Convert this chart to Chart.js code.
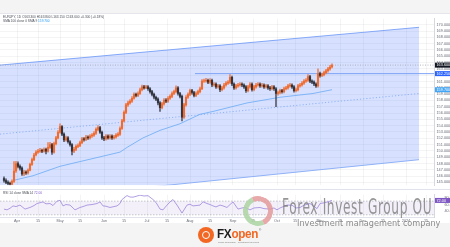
<!DOCTYPE html>
<html>
<head>
<meta charset="utf-8">
<script src="https://cdn.jsdelivr.net/npm/chart.js@4.4.1/dist/chart.umd.min.js"></script>
<style>
  html, body { margin: 0; padding: 0; }
  body { width: 450px; height: 247px; position: relative; overflow: hidden; background: #f4f4f5;
         font-family: "Liberation Sans", Arial, sans-serif; }
  #panel { position: absolute; left: 0; top: 13px; width: 450px; height: 210px; background: #fff;
           border-top: 1px solid #e4e6ec; box-sizing: border-box; }
  canvas { position: absolute; left: 0; }
  #main { top: 14px; }
  #rsi { top: 190px; }
  #sep { position: absolute; left: 0; top: 189px; width: 450px; height: 1px; background: #e0e3eb; }
  .hdr { position: absolute; left: 3px; font-size: 3.2px; line-height: 4px; color: #4a4d57; white-space: nowrap; }
  .wm { position: absolute; white-space: nowrap; transform-origin: 0 0; }
  #wm1 { left: 282px; top: 196px; font-family: "DejaVu Sans Condensed", "DejaVu Sans", sans-serif;
         font-size: 22px; line-height: 22px; color: rgba(120,120,120,0.78); letter-spacing: 1px; }
  #wm2 { left: 297px; top: 219px; font-family: "DejaVu Sans", sans-serif; font-size: 9px; line-height: 9px;
         color: #8b8b8b; }
  #ring { position: absolute; left: 243px; top: 196px; width: 30px; height: 30px; box-sizing: border-box;
          border: 5px solid; border-radius: 50%; border-color: #e39b9b #e39b9b #acd4a3 #acd4a3;
          transform: rotate(20deg); opacity: 0.85; }
  #fxlogo { position: absolute; left: 198px; top: 227px; width: 16px; height: 16px; border-radius: 50%;
            background: #f26722; }
  #fxlogo::after { content: ""; position: absolute; left: 4px; top: 4px; width: 6px; height: 6px;
            border: 1px solid #fff; border-radius: 50%; }
  #fxtext { left: 217px; top: 228px; font-size: 12px; line-height: 12px; font-weight: bold; letter-spacing: -0.3px; }
  #fxtag { left: 218px; top: 241px; font-size: 2.4px; line-height: 3px; color: #777; }
  #fxreg { left: 259px; top: 228px; font-size: 3px; color: #555; }
</style>
</head>
<body>
<div id="panel"></div>
<canvas id="main" width="450" height="176"></canvas>
<canvas id="rsi" width="450" height="33"></canvas>
<div id="sep"></div>
<div class="hdr" id="hdr1" style="top:14.5px"></div>
<div class="hdr" id="hdr2" style="top:19px"></div>
<div class="hdr" id="hdr3" style="top:190.5px"></div>
<div id="ring"></div>
<div class="wm" id="wm1" data-w="150">Forex Invest Group OU</div>
<div class="wm" id="wm2" data-w="143">Investment management company</div>
<div id="fxlogo"></div>
<div class="wm" id="fxtext" data-w="41"><span style="color:#1e1e1e">FX</span><span style="color:#f26722">open</span></div>
<div class="wm" id="fxreg">®</div>
<div class="wm" id="fxtag">online brokerage · investment services</div>
<script>
// daily candles, EURJPY, bar index 0 = first visible session
const opens = [
  145.60,145.30,145.00,144.85,144.70,145.15,146.80,148.00,147.55,147.25,
  146.35,146.65,146.50,146.95,147.85,148.60,149.35,149.80,149.95,150.10,
  149.95,150.25,149.95,150.55,151.00,149.80,151.15,152.05,152.95,153.85,
  152.65,151.75,152.05,151.45,151.00,149.95,150.25,150.70,150.85,151.30,
  151.90,151.80,152.20,152.05,152.35,152.50,152.80,153.40,153.70,152.95,
  152.05,151.90,152.35,152.05,152.35,152.05,152.20,152.50,152.65,153.55,
  154.75,156.10,157.30,157.60,157.90,158.35,158.95,158.80,159.10,159.70,
  160.15,160.00,160.15,159.85,159.40,158.95,158.50,158.20,157.60,156.85,
  157.45,158.05,157.90,158.35,158.65,159.10,159.40,160.00,159.10,158.65,
  155.35,157.30,158.50,158.95,159.55,159.25,158.80,159.10,159.40,159.85,
  161.05,161.10,161.20,160.90,161.20,160.45,160.60,160.15,160.30,159.70,
  160.00,160.45,160.75,160.90,161.65,160.60,160.00,160.30,160.45,160.60,
  160.45,160.15,159.55,160.15,160.60,159.70,160.15,160.45,160.60,160.30,
  160.45,160.15,160.30,160.00,159.85,160.15,159.85,159.10,159.25,159.55,
  159.40,159.85,160.00,160.30,160.45,160.15,159.55,159.70,160.30,160.45,
  160.75,161.05,161.20,161.80,161.05,160.90,160.60,160.30,162.25,161.95,
  162.10,162.40,162.70,163.00,163.30
];
const highs = [
  145.90,145.55,145.25,145.05,145.40,148.30,148.35,148.25,147.80,147.45,
  146.90,146.85,147.15,148.05,148.85,149.60,150.05,150.25,150.40,150.30,
  150.50,150.45,151.30,151.35,151.20,151.40,152.30,153.20,154.30,154.00,
  152.85,152.35,152.25,151.65,151.15,150.55,150.95,151.10,151.55,152.15,
  152.10,152.45,152.40,152.60,152.75,153.05,153.65,154.00,153.90,153.15,
  152.30,152.60,152.55,152.60,152.55,152.45,152.75,152.90,153.80,155.00,
  156.35,157.55,157.90,158.15,158.60,159.20,159.15,159.35,159.95,160.45,
  160.40,160.40,160.35,160.05,159.60,159.15,158.70,158.40,157.80,157.70,
  158.30,158.30,158.60,158.90,159.35,159.65,160.30,160.20,159.30,158.85,
  157.55,158.75,159.20,159.80,159.75,159.45,159.35,159.65,160.10,161.30,
  161.40,161.50,161.40,161.45,161.40,160.85,160.80,160.55,160.50,160.25,
  160.70,161.00,161.15,162.10,161.85,160.80,160.55,160.70,160.85,160.80,
  160.65,160.35,160.40,160.85,160.80,160.40,160.70,160.85,160.80,160.70,
  160.65,160.55,160.50,160.25,160.40,160.35,160.05,159.50,159.80,159.75,
  160.10,160.25,160.55,160.70,160.65,160.35,159.95,160.55,160.70,161.00,
  161.30,161.45,162.10,162.00,161.25,161.10,160.80,163.00,162.50,162.35,
  162.65,162.95,163.25,163.55,163.80
];
const lows = [
  145.05,144.80,144.60,144.55,144.60,145.00,146.60,147.30,146.95,146.10,
  146.05,146.25,146.30,146.80,147.70,148.45,149.20,149.60,149.75,149.70,
  149.80,149.50,149.80,150.40,149.45,149.65,150.95,151.90,152.80,152.40,
  151.45,151.55,151.20,150.75,149.35,149.70,150.05,150.50,150.65,151.15,
  151.55,151.60,151.80,151.85,152.15,152.30,152.60,153.20,152.75,151.80,
  151.60,151.70,151.85,151.85,151.80,151.85,152.00,152.30,152.45,153.40,
  154.60,155.90,157.05,157.40,157.70,158.20,158.55,158.60,158.95,159.50,
  159.80,159.85,159.60,159.15,158.70,158.25,157.95,157.30,156.25,156.65,
  157.25,157.65,157.70,158.15,158.45,158.90,159.20,158.85,158.40,154.75,
  155.15,157.10,158.30,158.75,159.00,158.55,158.60,158.90,159.20,159.70,
  160.85,160.90,160.65,160.70,160.20,160.25,159.90,159.95,159.40,159.50,
  159.80,160.25,160.55,160.70,160.35,159.75,159.80,160.10,160.25,160.20,
  159.90,159.25,159.35,159.95,159.45,159.50,159.95,160.25,160.05,160.10,
  159.90,159.95,159.75,159.60,159.65,159.60,157.00,158.85,159.05,159.15,
  159.20,159.65,159.80,160.10,159.90,159.30,159.35,159.50,160.10,160.25,
  160.55,160.85,161.00,160.80,160.65,160.35,160.05,160.10,161.70,161.75,
  161.90,162.20,162.50,162.80,163.15
];
const closes = [
  145.30,145.00,144.85,144.70,145.15,146.80,148.00,147.55,147.25,146.35,
  146.65,146.50,146.95,147.85,148.60,149.35,149.80,149.95,150.10,149.95,
  150.25,149.95,150.55,151.00,149.80,151.15,152.05,152.95,153.85,152.65,
  151.75,152.05,151.45,151.00,149.95,150.25,150.70,150.85,151.30,151.90,
  151.80,152.20,152.05,152.35,152.50,152.80,153.40,153.70,152.95,152.05,
  151.90,152.35,152.05,152.35,152.05,152.20,152.50,152.65,153.55,154.75,
  156.10,157.30,157.60,157.90,158.35,158.95,158.80,159.10,159.70,160.15,
  160.00,160.15,159.85,159.40,158.95,158.50,158.20,157.60,156.85,157.45,
  158.05,157.90,158.35,158.65,159.10,159.40,160.00,159.10,158.65,155.35,
  157.30,158.50,158.95,159.55,159.25,158.80,159.10,159.40,159.85,161.05,
  161.10,161.20,160.90,161.20,160.45,160.60,160.15,160.30,159.70,160.00,
  160.45,160.75,160.90,161.65,160.60,160.00,160.30,160.45,160.60,160.45,
  160.15,159.55,160.15,160.60,159.70,160.15,160.45,160.60,160.30,160.45,
  160.15,160.30,160.00,159.85,160.15,159.85,159.10,159.25,159.55,159.40,
  159.85,160.00,160.30,160.45,160.15,159.55,159.70,160.30,160.45,160.75,
  161.05,161.20,161.80,161.05,160.90,160.60,160.30,162.25,161.95,162.10,
  162.40,162.70,163.00,163.30,163.60
];

// 100-day SMA: [bar, price]
const smaPoints = [
  [4.5,145.30],[14.5,146.05],[28,147.55],[38,148.30],[48,149.05],[58,149.80],
  [61.5,150.55],[69.5,152.05],[78,153.25],[88,154.30],[98,155.80],[104.5,156.25],
  [121.5,157.60],[138,158.50],[154.5,159.10],[164,159.70]
];

// drawn trend channel and levels: [bar, price]
const channelTop = [[-2,163.60],[207.5,169.60]];
const channelBottom = [[-2,141.85],[207.5,148.60]];
const channelMid = [[-2,152.65],[207.5,159.10]];
const resistance = [[95.5,162.25],[215,162.25]];

// RSI 14: [bar, value]
const rsiPoints = [
  [0,46.7],[1.5,44.4],[3,49],[4.5,56.0],[6,54],[8,58.4],[10.5,46.7],[13,51.4],[15,57],[16.5,63.0],
  [19.5,67.7],[21,62],[23,63.0],[24.5,57],[26.5,70.0],[28,72.3],[29.5,56.0],[31,60],[33,58.4],[35.5,44.4],
  [38,51.4],[40,55],[41.5,58.4],[44,60],[46.5,63.0],[48,67.7],[49.5,56.0],[51,55],[53,51.4],[55,54],
  [56.5,56.0],[58,63],[59,74.7],[61.5,86.3],[63,82],[64.5,81.6],[66,84],[68,87.5],[70,85],[72,86.0],
  [74.5,74.7],[76,66],[78,46.7],[79.5,44.4],[81,55],[83,67.7],[84.5,74.7],[86.5,58.4],[89,35.1],[91.5,58.4],
  [93,61],[94.5,56.0],[96,57],[98,58.4],[99.5,68],[101.5,63.0],[103,60],[104.5,56.0],[106,53],[108,58.4],
  [109.5,56],[111.5,51.4],[113,60],[114.5,67.7],[117,46.7],[119,50],[120.5,51.4],[123,44.4],[125,50],[128,51.4],
  [130,48],[133,46.7],[135,50],[136.5,44.4],[138,50],[141.5,58.4],[144,58],[146,50],[148,51.4],[150,58],
  [153,63.0],[156.5,48.0],[158,63.0],[160,65],[162,68],[163,70.0],[164,72.0]
];
const rsiLevels = [70, 30];

// axes
const priceTicks = [145,146,147,148,149,150,151,152,153,154,155,156,157,158,159,160,
                    161,162,163,164,165,166,167,168,169,170];
const rsiTicks = [40, 60, 80];
const timeTickBars = [6.5,17,28,38,50,60,71.5,81.5,93,103,114.5,124.5,136.5,145.5,158,168,179.5,189.5,201,211];
const timeTickLabels = ["Apr","15","May","15","Jun","15","Jul","15","Aug","15","Sep","15","Oct","15",
                        "Nov","15","Dec","15","2024","15"];

Chart.defaults.font.family = '"Liberation Sans", Arial, sans-serif';
Chart.defaults.font.size = 3.8;
Chart.defaults.color = '#6a6d78';
Chart.defaults.animation = false;

const xy = arr => arr.map(([x, y]) => ({ x, y }));
const lastBar = closes.length - 1;
const upCol = '#f26b2e', downCol = '#32353e';
const candleCol = closes.map((c, i) => (c >= opens[i] ? upCol : downCol));
const gridCol = 'rgba(42,46,57,0.05)';

// coloured price tags on the right axis
const axisTags = {
  id: 'axisTags',
  afterDraw(chart, args, opts) {
    const ctx = chart.ctx, y = chart.scales.y, area = chart.chartArea;
    ctx.save();
    ctx.font = '3.8px "Liberation Sans"';
    ctx.textBaseline = 'middle';
    for (const t of opts.tags) {
      const py = y.getPixelForValue(t.value);
      ctx.fillStyle = t.bg;
      ctx.fillRect(area.right + 1, py - 2.5, 15, 5);
      ctx.fillStyle = '#fff';
      ctx.fillText(t.text, area.right + 2.5, py + 0.2);
    }
    ctx.restore();
  }
};

const timeAxis = showLabels => ({
  type: 'linear', min: -2, max: 215, offset: false,
  grid: { color: gridCol, drawTicks: false, offset: false },
  border: { display: showLabels, color: '#e0e3eb' },
  ticks: { display: showLabels, padding: 1.5, maxRotation: 0, autoSkip: false,
           callback: (v, i) => timeTickLabels[i] },
  afterBuildTicks: a => { a.ticks = timeTickBars.map(v => ({ value: v })); },
  afterFit: a => { a.height = showLabels ? 6 : 0; }
});

const line = (data, color, extra) => Object.assign({
  type: 'line', data: xy(data), borderColor: color, borderWidth: 1,
  pointRadius: 0, tension: 0, fill: false
}, extra);

new Chart(document.getElementById('main'), {
  type: 'bar',
  data: {
    datasets: [
      line(channelTop, '#8fb1f7', { order: 10 }),
      line(channelBottom, '#8fb1f7', { order: 9, fill: '-1', backgroundColor: 'rgba(41,98,255,0.19)' }),
      line(channelMid, '#8fb1f7', { order: 8, borderDash: [1.2, 2] }),
      line([[-2, closes[lastBar]], [215, closes[lastBar]]], '#a3a6af', { order: 7, borderWidth: 0.8, borderDash: [1, 1.5] }),
      line(resistance, '#7ea4f6', { order: 6 }),
      line(smaPoints, '#6aaaf4', { order: 5, borderWidth: 0.8 }),
      {
        type: 'bar', order: 2, grouped: false, barThickness: 0.6,
        data: closes.map((c, i) => ({ x: i, y: [lows[i], highs[i]] })),
        backgroundColor: candleCol
      },
      {
        type: 'bar', order: 1, grouped: false, barThickness: 1.5,
        data: closes.map((c, i) => ({ x: i, y: [opens[i], c] })),
        backgroundColor: candleCol
      }
    ]
  },
  options: {
    responsive: false,
    devicePixelRatio: 1,
    layout: { padding: 0 },
    plugins: {
      legend: { display: false },
      tooltip: { enabled: false },
      axisTags: { tags: [
        { value: closes[lastBar], bg: '#131722', text: closes[lastBar].toFixed(3) },
        { value: resistance[0][1], bg: '#2962ff', text: resistance[0][1].toFixed(3) },
        { value: smaPoints[smaPoints.length - 1][1], bg: '#42a5f5', text: smaPoints[smaPoints.length - 1][1].toFixed(3) }
      ] }
    },
    scales: {
      x: timeAxis(false),
      y: {
        position: 'right', min: 144.55, max: 170.95,
        grid: { color: gridCol, drawTicks: false },
        border: { display: true, color: '#d6d8df' },
        ticks: { padding: 2.5, autoSkip: false, callback: v => v.toFixed(3) },
        afterBuildTicks: a => { a.ticks = priceTicks.map(v => ({ value: v })); },
        afterFit: a => { a.width = 16; }
      }
    }
  },
  plugins: [axisTags]
});

const rsiLast = rsiPoints[rsiPoints.length - 1][1];

new Chart(document.getElementById('rsi'), {
  type: 'line',
  data: {
    datasets: [
      line([[-2, rsiLevels[0]], [215, rsiLevels[0]]], 'rgba(120,123,134,0.6)', { borderWidth: 0.7, borderDash: [1.5, 1.5], order: 3 }),
      line([[-2, rsiLevels[1]], [215, rsiLevels[1]]], 'rgba(120,123,134,0.6)', { borderWidth: 0.7, borderDash: [1.5, 1.5], order: 2,
        fill: '-1', backgroundColor: 'rgba(126,87,194,0.09)' }),
      line(rsiPoints, '#9d87dc', { borderWidth: 0.8, order: 1 })
    ]
  },
  options: {
    responsive: false,
    devicePixelRatio: 1,
    layout: { padding: 0 },
    plugins: {
      legend: { display: false },
      tooltip: { enabled: false },
      axisTags: { tags: [{ value: rsiLast, bg: '#7e57c2', text: rsiLast.toFixed(2) }] }
    },
    scales: {
      x: timeAxis(true),
      y: {
        position: 'right', min: 23.5, max: 88.6,
        grid: { display: false },
        border: { display: true, color: '#d6d8df' },
        ticks: { padding: 2.5, autoSkip: false, callback: v => v.toFixed(2) },
        afterBuildTicks: a => { a.ticks = rsiTicks.map(v => ({ value: v })); },
        afterFit: a => { a.width = 16; }
      }
    }
  },
  plugins: [axisTags]
});

// legend lines
const o = opens[lastBar], h = highs[lastBar], l = lows[lastBar], c = closes[lastBar];
const chg = c - closes[lastBar - 1];
document.getElementById('hdr1').textContent =
  `EURJPY, 1D  O${o.toFixed(3)} H${h.toFixed(3)} L${l.toFixed(3)} C${c.toFixed(3)} +${chg.toFixed(3)} (+${(chg / closes[lastBar - 1] * 100).toFixed(2)}%)`;
document.getElementById('hdr2').innerHTML =
  `SMA 100 close 0 SMA 9  <span style="color:#2196f3">${smaPoints[smaPoints.length - 1][1].toFixed(3)}</span>`;
document.getElementById('hdr3').innerHTML =
  `RSI 14 close SMA 14  <span style="color:#7e57c2">${rsiLast.toFixed(2)}</span>`;

// squeeze watermark texts to their widths
document.querySelectorAll('[data-w]').forEach(el => {
  el.style.transform = `scaleX(${el.dataset.w / el.scrollWidth})`;
});
</script>
</body>
</html>
